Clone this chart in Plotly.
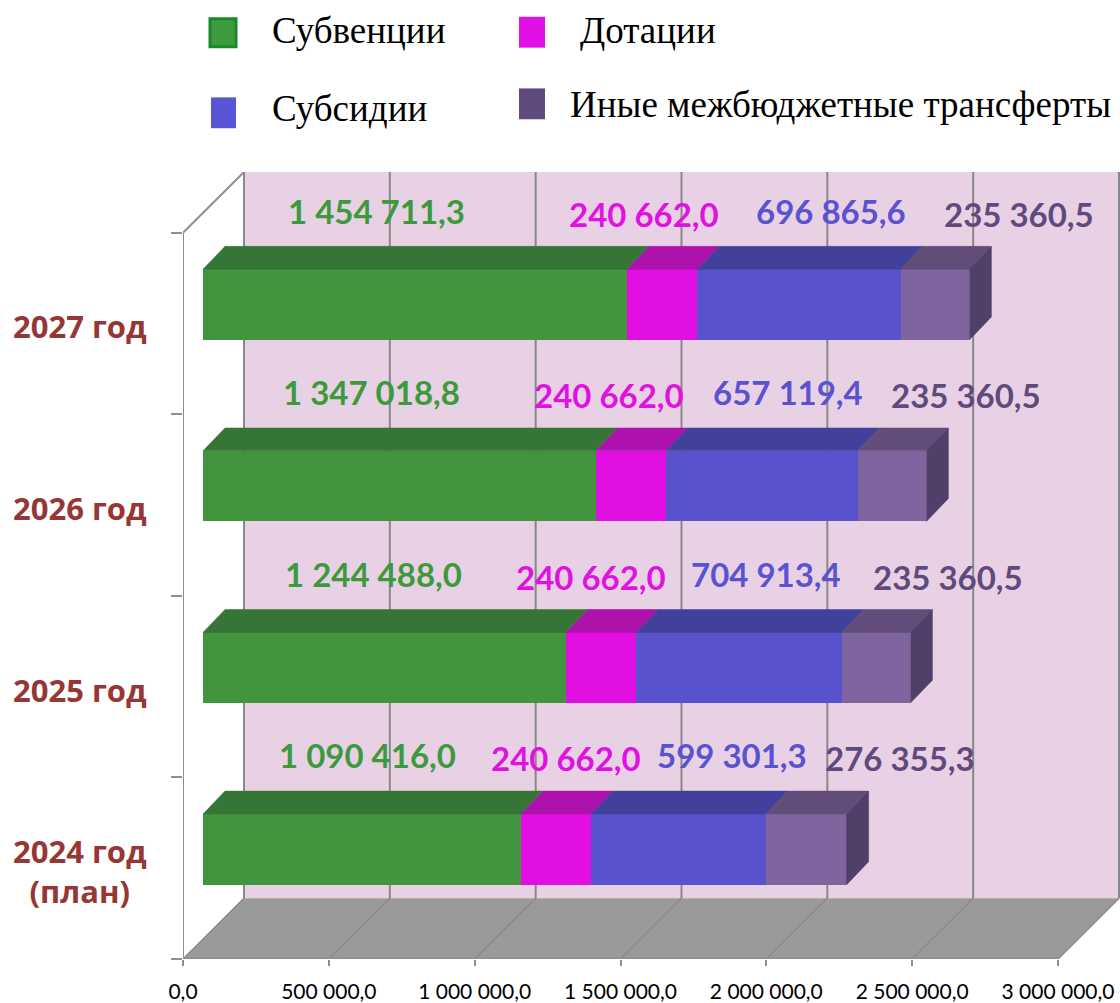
import plotly.graph_objects as go

# ---------------- data ----------------
categories = ["2024 год<br>(план)", "2025 год", "2026 год", "2027 год"]
series_names = ["Субвенции", "Дотации", "Субсидии", "Иные межбюджетные трансферты"]
subventions = [1090416.0, 1244488.0, 1347018.8, 1454711.3]
dotations = [240662.0, 240662.0, 240662.0, 240662.0]
subsidies = [599301.3, 704913.4, 657119.4, 696865.6]
other_transfers = [276355.3, 235360.5, 235360.5, 235360.5]
x_tick_values = [0, 500000, 1000000, 1500000, 2000000, 2500000, 3000000]
x_tick_labels = ["0,0", "500 000,0", "1 000 000,0", "1 500 000,0",
                 "2 000 000,0", "2 500 000,0", "3 000 000,0"]

series = [subventions, dotations, subsidies, other_transfers]

# ---------------- styles / geometry ----------------
W, H = 1120, 1003
ML, MR, MT, MB = 183, 0, 172, 40
PW, PH = W - ML - MR, H - MT - MB
UX = 3000000 / 875.0        # data units per pixel (x)
UY = 1 / 182.5              # category units per pixel (y)
BACK = 61                   # depth of floor / back wall (px)
BX, BY = 20, 19             # bar plane offset from front plane (px)
DX, DY = 22, 23             # bar depth (px)
BAR_W = 71 * UY

colors_front = ["#43943f", "#e10fe2", "#5952cd", "#7f659f"]
colors_top = ["#357535", "#ad12ad", "#41409b", "#614c7a"]
side_color = "#4f3f69"
label_colors = ["#3c9a3c", "#e012e0", "#5a52d0", "#5f4a7d"]
legend_colors = ["#3f9a40", "#e010e6", "#5a55d6", "#5f4b7b"]
grid_color = "#888888"
axis_color = "#8f8f8f"

# label offsets (px) relative to segment centre: [category][series]
LABEL_XSHIFT = [[5, 10, 53, 94], [-11, -10, 27, 72], [-28, -22, 26, 74], [-39, -18, 32, 84]]
LABEL_YSHIFT = [94, 91, 94, 91]


def fmt(v):
    return f"{v:,.1f}".replace(",", " ").replace(".", ",")


n = len(categories)
y_pos = [i + 0.5 for i in range(n)]

fig = go.Figure()

# front faces
for name, vals, col in zip(series_names, series, colors_front):
    fig.add_trace(go.Bar(
        y=y_pos, x=vals, orientation="h", name=name, width=BAR_W,
        marker=dict(color=col, line=dict(width=0)),
        xaxis="x2", yaxis="y2", showlegend=False, hoverinfo="x+name"))

# top faces + labels
annotations = []
cum = [0.0] * n
for s, vals in enumerate(series):
    xs, ys = [], []
    for i in range(n):
        a = cum[i]
        b = a + vals[i]
        yt = y_pos[i] + BAR_W / 2
        xs += [a, b, b + DX * UX, a + DX * UX, a, None]
        ys += [yt, yt, yt + DY * UY, yt + DY * UY, yt, None]
        annotations.append(dict(
            x=(a + b) / 2, y=y_pos[i], xref="x2", yref="y2",
            text=fmt(vals[i]), showarrow=False,
            xshift=LABEL_XSHIFT[i][s], yshift=LABEL_YSHIFT[s],
            font=dict(family="Lato", size=33, color=label_colors[s], weight="bold")))
        cum[i] = b
    fig.add_trace(go.Scatter(
        x=xs, y=ys, mode="lines", fill="toself", fillcolor=colors_top[s],
        line=dict(width=0.5, color=colors_top[s]),
        xaxis="x2", yaxis="y2", showlegend=False, hoverinfo="skip"))

# right side faces
xs, ys = [], []
for i in range(n):
    e = cum[i]
    yb = y_pos[i] - BAR_W / 2
    yt = y_pos[i] + BAR_W / 2
    xs += [e, e + DX * UX, e + DX * UX, e, e, None]
    ys += [yb, yb + DY * UY, yt + DY * UY, yt, yb, None]
fig.add_trace(go.Scatter(
    x=xs, y=ys, mode="lines", fill="toself", fillcolor=side_color,
    line=dict(width=0.5, color=side_color),
    xaxis="x2", yaxis="y2", showlegend=False, hoverinfo="skip"))

# ---------------- walls, floor, grid ----------------
bx, by = BACK * UX, BACK * UY
xmax = x_tick_values[-1]
shapes = [
    dict(type="rect", xref="x", yref="y", x0=bx, x1=PW * UX, y0=by, y1=PH * UY,
         fillcolor="#e8d1e4", line=dict(width=0), layer="below"),
    dict(type="path", xref="x", yref="y",
         path=f"M 0,0 L {xmax},0 L {xmax + bx},{by} L {bx},{by} Z",
         fillcolor="#9a9a9a", line=dict(width=0), layer="below"),
]
for t in x_tick_values:
    shapes.append(dict(type="line", xref="x", yref="y", x0=bx + t, x1=bx + t,
                       y0=by, y1=PH * UY, line=dict(color=grid_color, width=2), layer="below"))
    shapes.append(dict(type="line", xref="x", yref="y", x0=t, x1=t + bx,
                       y0=0, y1=by, line=dict(color="#8a8a8a", width=1.5), layer="below"))
shapes += [
    dict(type="line", xref="x", yref="y", x0=0, x1=xmax, y0=0, y1=0,
         line=dict(color=axis_color, width=3), layer="below"),
    dict(type="line", xref="x", yref="y", x0=0, x1=0, y0=0, y1=n,
         line=dict(color=axis_color, width=2), layer="below"),
    dict(type="line", xref="x", yref="y", x0=0, x1=bx, y0=n, y1=n + by,
         line=dict(color=axis_color, width=2), layer="below"),
]

# ---------------- category labels ----------------
for i, c in enumerate(categories):
    annotations.append(dict(
        x=(80 - ML) / PW, xref="paper", y=y_pos[i], yref="y", text=c,
        showarrow=False, xanchor="center", align="center", yshift=-3,
        font=dict(family="Open Sans", size=31, color="#953735", weight="bold")))

# ---------------- legend (manual) ----------------
def px(xp):
    return (xp - ML) / PW


def py(yp):
    return (H - MB - yp) / PH


legend_pos = [(210, 18, 236, 46, 270, 30), (519, 16, 545, 47, 578, 30),
              (211, 97, 236, 128, 270, 108), (519, 88, 545, 119, 568, 104)]
for (x0, y0, x1, y1, tx, ty), name, col in zip(legend_pos, series_names, legend_colors):
    line = dict(width=3, color="#178a2a") if col == legend_colors[0] else dict(width=0)
    shapes.append(dict(type="rect", xref="paper", yref="paper",
                       x0=px(x0), x1=px(x1), y0=py(y1), y1=py(y0),
                       fillcolor=col, line=line))
    annotations.append(dict(x=px(tx), y=py(ty), xref="paper", yref="paper",
                            text=name, showarrow=False, xanchor="left", yanchor="middle",
                            font=dict(family="Liberation Serif", size=37, color="black")))

fig.update_layout(
    width=W, height=H, margin=dict(l=ML, r=MR, t=MT, b=MB),
    barmode="stack", bargap=0, showlegend=False,
    plot_bgcolor="white", paper_bgcolor="white",
    shapes=shapes, annotations=annotations,
    xaxis=dict(range=[0, PW * UX], tickvals=x_tick_values, ticktext=x_tick_labels,
               ticks="outside", ticklen=6, tickwidth=2, tickcolor=axis_color,
               showgrid=False, zeroline=False, showline=False,
               tickfont=dict(family="Lato", size=21, color="black"),
               ticklabelstandoff=8, fixedrange=True),
    yaxis=dict(range=[0, PH * UY], tickvals=list(range(n + 1)),
               ticks="outside", ticklen=11, tickwidth=2, tickcolor=axis_color,
               showticklabels=False, showgrid=False, zeroline=False, showline=False,
               fixedrange=True),
    xaxis2=dict(overlaying="x", anchor="y2", range=[-BX * UX, (PW - BX) * UX],
                visible=False, fixedrange=True),
    yaxis2=dict(overlaying="y", anchor="x2", range=[-BY * UY, (PH - BY) * UY],
                visible=False, fixedrange=True),
)

fig.write_html("out.html", config={"displayModeBar": False},
               post_script="document.body.style.margin='0px';document.body.style.overflow='hidden';")
